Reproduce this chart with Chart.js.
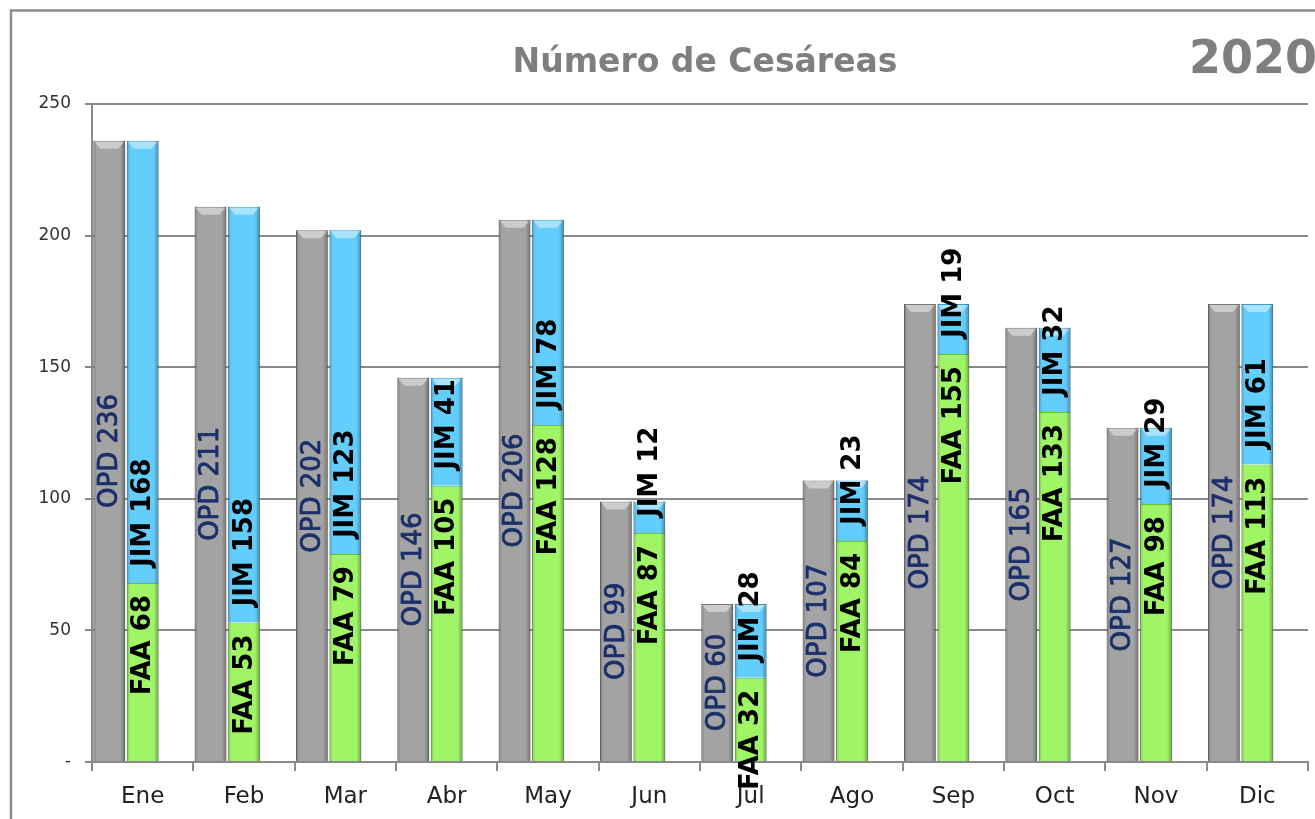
<!DOCTYPE html>
<html>
<head>
<meta charset="utf-8">
<script src="https://cdn.jsdelivr.net/npm/chart.js@4/dist/chart.umd.min.js"></script>
<style>
  html, body { margin: 0; padding: 0; background: #fff; overflow: hidden; }
  #wrap { position: relative; width: 1315px; height: 819px; }
</style>
</head>
<body>
<div id="wrap"><canvas id="grafico" width="1315" height="819"></canvas></div>
<script>
// datos
const meses = ["Ene", "Feb", "Mar", "Abr", "May", "Jun", "Jul", "Ago", "Sep", "Oct", "Nov", "Dic"];
const opd = [236, 211, 202, 146, 206, 99, 60, 107, 174, 165, 127, 174];
const faa = [68, 53, 79, 105, 128, 87, 32, 84, 155, 133, 98, 113];
const jim = [168, 158, 123, 41, 78, 12, 28, 23, 19, 32, 29, 61];
const vacio = meses.map(() => null);
const ticksY = [0, 50, 100, 150, 200, 250];

const titulo = "Número de Cesáreas";
const anio = "2020";

// marco y titulos
const marcoPlugin = {
  id: "marco",
  beforeDraw(chart) {
    const ctx = chart.ctx;
    ctx.save();
    ctx.strokeStyle = "#8c8c8c";
    ctx.lineWidth = 2.5;
    ctx.strokeRect(11, 10.5, 1400, 900);
    ctx.fillStyle = "#7f7f7f";
    ctx.textBaseline = "alphabetic";
    ctx.font = "bold 33px 'DejaVu Sans'";
    ctx.textAlign = "center";
    ctx.fillText(titulo, 705, 72);
    ctx.font = "bold 46px 'DejaVu Sans'";
    ctx.textAlign = "left";
    ctx.fillText(anio, 1189, 73);
    ctx.restore();
  }
};

// efecto de relieve en las barras
const relievePlugin = {
  id: "relieve",
  afterDatasetsDraw(chart) {
    const ctx = chart.ctx;
    ctx.save();
    chart.data.datasets.forEach((ds, i) => {
      if (!ds.relieve) return;
      chart.getDatasetMeta(i).data.forEach(bar => {
        const { x, y, base, width } = bar.getProps(["x", "y", "base", "width"], true);
        if (y == null || isNaN(y)) return;
        const l = x - width / 2, r = x + width / 2;
        const g = ctx.createLinearGradient(l, 0, r, 0);
        g.addColorStop(0, "rgba(0,0,0,0.25)");
        g.addColorStop(0.1, "rgba(0,0,0,0.0)");
        g.addColorStop(0.85, "rgba(0,0,0,0.0)");
        g.addColorStop(1, "rgba(0,0,0,0.32)");
        ctx.fillStyle = g;
        ctx.fillRect(l, y, width, base - y);
        if (ds.tapa) {
          ctx.fillStyle = "rgba(255,255,255,0.45)";
          ctx.beginPath();
          ctx.moveTo(l + 1, y + 1);
          ctx.lineTo(r - 1, y + 1);
          ctx.lineTo(r - 7, y + 8);
          ctx.lineTo(l + 7, y + 8);
          ctx.closePath();
          ctx.fill();
        }
      });
    });
    ctx.restore();
  }
};

// etiquetas verticales
const etiquetasPlugin = {
  id: "etiquetas",
  afterDatasetsDraw(chart) {
    const ctx = chart.ctx;
    ctx.save();
    chart.data.datasets.forEach((ds, i) => {
      if (!ds.prefijo) return;
      chart.getDatasetMeta(i).data.forEach((bar, j) => {
        const valor = ds.data[j];
        if (valor == null) return;
        const { x, y, base } = bar.getProps(["x", "y", "base"], true);
        let ancla, alin;
        if (ds.posicion === "centro") { ancla = (y + base) / 2; alin = "center"; }
        else if (ds.posicion === "arriba") { ancla = y + 12; alin = "right"; }
        else { ancla = base - 16; alin = "left"; }
        const texto = ds.prefijo + " " + valor;
        ctx.save();
        ctx.translate(x + 1, ancla);
        ctx.rotate(-Math.PI / 2);
        ctx.textAlign = alin;
        ctx.textBaseline = "middle";
        ctx.font = ds.fuente;
        ctx.fillStyle = ds.colorTexto;
        ctx.fillText(texto, 0, 0);
        if (ds.trazo) {
          // un poco mas de grosor
          ctx.strokeStyle = ds.colorTexto;
          ctx.lineWidth = ds.trazo;
          ctx.strokeText(texto, 0, 0);
        }
        ctx.restore();
      });
    });
    ctx.restore();
  }
};

const ctx = document.getElementById("grafico").getContext("2d");
new Chart(ctx, {
  type: "bar",
  data: {
    labels: meses,
    datasets: [
      {
        label: "OPD", data: opd, stack: "a",
        backgroundColor: "#a3a3a3", borderColor: "#7a7a7a", borderWidth: 1,
        prefijo: "OPD", posicion: "centro", fuente: "26px 'DejaVu Sans'", colorTexto: "#1b2f6b", trazo: 0.8,
        relieve: true, tapa: true
      },
      {
        label: "FAA", data: faa, stack: "b",
        backgroundColor: "#a0f567", borderColor: "#6fbf3c", borderWidth: 1,
        prefijo: "FAA", posicion: "arriba", fuente: "bold 26px 'DejaVu Sans'", colorTexto: "#000",
        relieve: true, tapa: false
      },
      {
        label: "JIM", data: jim, stack: "b",
        backgroundColor: "#63cdfb", borderColor: "#3a9fcf", borderWidth: 1,
        prefijo: "JIM", posicion: "base", fuente: "bold 26px 'DejaVu Sans'", colorTexto: "#000",
        relieve: true, tapa: true
      },
      { label: "", data: vacio, stack: "c", backgroundColor: "rgba(0,0,0,0)" }
    ]
  },
  options: {
    responsive: false,
    animation: false,
    categoryPercentage: 0.99,
    barPercentage: 0.95,
    layout: { padding: { top: 104, right: 7, left: 0, bottom: 0 } },
    plugins: {
      legend: { display: false },
      tooltip: { enabled: false },
      title: { display: false }
    },
    scales: {
      x: {
        stacked: true,
        grid: { drawOnChartArea: false, drawTicks: true, tickLength: 9, color: "#8a8a8a", lineWidth: 2, offset: true },
        border: { color: "#8a8a8a", width: 2 },
        ticks: { color: "#222", font: { family: "'DejaVu Sans'", size: 23 }, padding: 12, maxRotation: 0 },
        afterFit: s => { s.height = 57; }
      },
      y: {
        stacked: true,
        min: 0,
        max: 250,
        afterBuildTicks: s => { s.ticks = ticksY.map(v => ({ value: v })); },
        grid: { color: "#8a8a8a", lineWidth: 2, tickLength: 7 },
        border: { color: "#8a8a8a", width: 2 },
        ticks: {
          color: "#333",
          font: { family: "'DejaVu Sans'", size: 17 },
          padding: 14,
          callback: v => v === 0 ? "-" : v
        },
        afterFit: s => { s.width = 92; }
      }
    }
  },
  plugins: [marcoPlugin, relievePlugin, etiquetasPlugin]
});
</script>
</body>
</html>
